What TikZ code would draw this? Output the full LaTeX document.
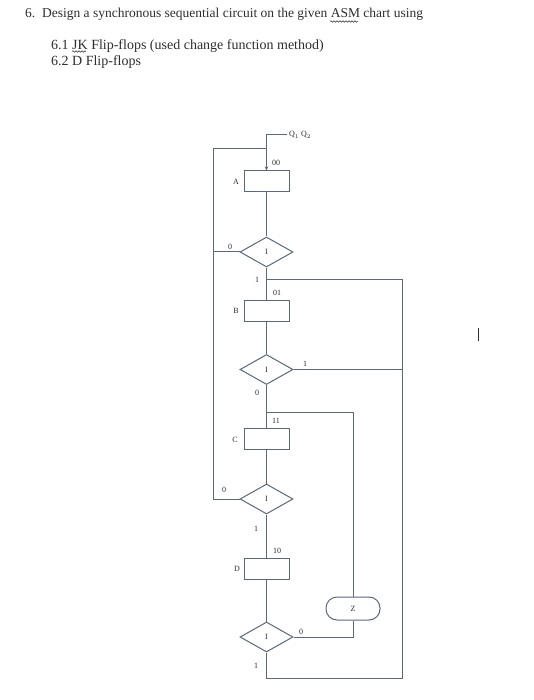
\documentclass[tikz,border=0pt]{standalone}
\usepackage{fontspec}
\setmainfont{Liberation Serif}
\usetikzlibrary{shapes.geometric,arrows.meta,decorations.pathmorphing}
\definecolor{flow}{HTML}{5A6878}
\definecolor{ink}{HTML}{2E2E2E}

\begin{document}
\begin{tikzpicture}[x=1pt,y=-1pt,
  state/.style={draw=flow,line width=1pt,minimum width=45pt,minimum height=21pt,inner sep=0},
  cond/.style={draw=flow,line width=1pt,diamond,minimum width=53pt,minimum height=30pt,inner sep=0,text=ink,font=\fontsize{8}{9}\selectfont},
  outbox/.style={draw=flow,line width=1pt,rounded corners=11pt,minimum width=54pt,minimum height=23pt,text=ink,font=\fontsize{8}{9}\selectfont},
  lbl/.style={text=ink,inner sep=0,font=\fontsize{8}{9}\selectfont},
  head/.style={anchor=west,text=ink,inner sep=0,font=\fontsize{14}{16}\selectfont},
  squig/.style={ink,line width=.5pt,decorate,decoration={snake,amplitude=.8pt,segment length=3pt}},
  wire/.style={draw=flow,line width=1pt}]
\useasboundingbox[fill=white] (0,0) rectangle (534,700);
% question text
\node[head,font=\fontsize{13.5}{16}\selectfont] (t0) at (25,14) {6.\ \ Design a synchronous sequential circuit on the given ASM chart using};
\node[head] (t1) at (51,46) {6.1 JK Flip-flops (used change function method)};
\node[head] (t2) at (51,62) {6.2 D Flip-flops};
\draw[squig] (330,21.5)--(358,21.5);
\draw[squig] (72,51.5)--(86,51.5);
\draw[ink,line width=1pt] (478.5,328)--(478.5,341);
% states
\node[state] (A) at (266.5,181.5){};
\node[state] (B) at (266.5,311){};
\node[state] (C) at (266.5,439){};
\node[state] (D) at (266.5,568.5){};
\node[cond] (d1) at (266.5,252){I};
\node[cond] (d2) at (266.5,369.5){I};
\node[cond] (d3) at (266.5,499){I};
\node[cond] (d4) at (266.5,637){I};
\node[outbox] (Z) at (353,608.5){Z};
% corners
\coordinate (qq) at (287,135);
\coordinate (top) at (266.5,135);
\coordinate (j1) at (266.5,149);
\coordinate (l1) at (213,149);
\coordinate (j2) at (266.5,279);
\coordinate (r1) at (402,279);
\coordinate (j3) at (266.5,412);
\coordinate (r2) at (353,412);
\coordinate (b1) at (266.5,678);
% lines
\draw[wire,-{Stealth[length=4pt,width=3.5pt]}] (qq)--(top)--(A);
\draw[wire] (A)--(d1)--(B)--(d2)--(C)--(d3)--(D)--(d4);
\draw[wire] (d1.west)-|(l1)--(j1);
\draw[wire] (d3.west)-|(l1);
\draw[wire] (d2.east)-|(r1)--(j2);
\draw[wire] (d4.south)--(b1)-|(r1);
\draw[wire] (Z.north)--(r2)--(j3);
\draw[wire] (d4.east)-|(Z.south);
% labels
\node[lbl,anchor=west] (q) at (289,135){Q$_1$ Q$_2$};
\node[lbl] at (276,163){00};
\node[lbl] at (236,182){A};
\node[lbl] at (230,247){0};
\node[lbl] at (257,280){1};
\node[lbl] at (277,293){01};
\node[lbl] at (236,311){B};
\node[lbl] at (305,364){1};
\node[lbl] at (257,393){0};
\node[lbl] at (276,421){11};
\node[lbl] at (235,440){C};
\node[lbl] at (224,490){0};
\node[lbl] at (256,529){1};
\node[lbl] at (277,551){10};
\node[lbl] at (237,569){D};
\node[lbl] at (301,632){0};
\node[lbl] at (256,666){1};
\end{tikzpicture}
\end{document}
